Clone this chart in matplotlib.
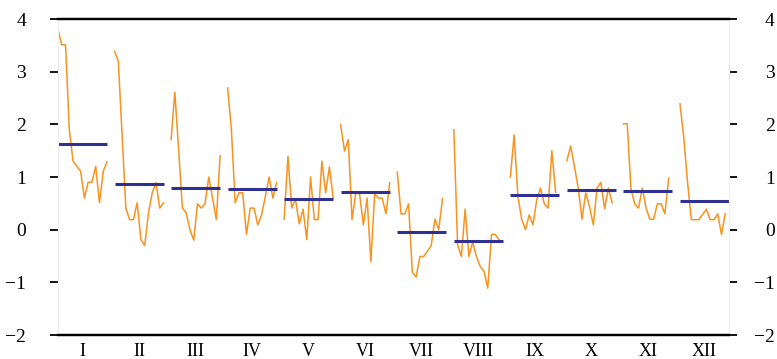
import matplotlib
matplotlib.use("Agg")
import matplotlib.pyplot as plt
import numpy as np

months = ["I", "II", "III", "IV", "V", "VI", "VII", "VIII", "IX", "X", "XI", "XII"]

# one list per month, one value per year
jan = [3.80, 3.51, 3.51, 1.90, 1.30, 1.20, 1.11, 0.60, 0.90, 0.90, 1.20, 0.51, 1.11, 1.29]
feb = [3.39, 3.20, 1.80, 0.41, 0.19, 0.19, 0.51, -0.19, -0.30, 0.32, 0.70, 0.89, 0.41, 0.51]
mar = [1.71, 2.61, 1.52, 0.41, 0.32, 0.00, -0.20, 0.49, 0.41, 0.49, 1.00, 0.60, 0.19, 1.40]
apr = [2.69, 1.90, 0.51, 0.70, 0.70, -0.09, 0.41, 0.41, 0.09, 0.28, 0.63, 1.00, 0.60, 0.89]
may = [0.20, 1.39, 0.41, 0.58, 0.11, 0.39, -0.19, 1.00, 0.19, 0.19, 1.30, 0.70, 1.19, 0.60]
jun = [1.99, 1.49, 1.71, 0.19, 0.70, 0.68, 0.09, 0.60, -0.61, 0.68, 0.60, 0.60, 0.30, 0.89]
jul = [1.09, 0.30, 0.30, 0.49, -0.81, -0.90, -0.51, -0.51, -0.41, -0.30, 0.20, 0.00, 0.59]
aug = [1.90, -0.28, -0.51, 0.39, -0.51, -0.24, -0.51, -0.70, -0.79, -1.11, -0.09, -0.09, -0.19]
sep = [1.00, 1.80, 0.63, 0.20, 0.00, 0.28, 0.09, 0.57, 0.79, 0.49, 0.41, 1.50, 0.71]
oct_ = [1.31, 1.59, 1.20, 0.79, 0.20, 0.70, 0.44, 0.09, 0.79, 0.90, 0.40, 0.79, 0.51]
nov = [2.01, 2.01, 0.77, 0.49, 0.41, 0.79, 0.41, 0.20, 0.20, 0.49, 0.49, 0.30, 0.98]
dec = [2.39, 1.75, 0.90, 0.19, 0.19, 0.19, 0.29, 0.39, 0.19, 0.19, 0.30, -0.09, 0.30]

series = [jan, feb, mar, apr, may, jun, jul, aug, sep, oct_, nov, dec]
n_years = 14
step = 15

orange = "#F7931E"
navy = "#2E3192"

plt.rcParams['font.family'] = ['Liberation Serif', 'DejaVu Serif']

fig = plt.figure(figsize=(7.77, 3.59), dpi=100)
ax = fig.add_axes([58 / 777, 1 - 335 / 359, (729 - 58) / 777, (335 - 19) / 359])

for m, vals in enumerate(series):
    x0 = m * step
    xs = x0 + np.arange(len(vals))
    ax.plot(xs, vals, color=orange, lw=1.1, zorder=2)
    ax.hlines(np.mean(vals), x0, x0 + n_years - 1, color=navy, lw=2.2, zorder=3)

ax.set_xlim(0, 11 * step + n_years - 1)
ax.set_ylim(-2, 4)
ax.set_yticks(range(-2, 5))
ax.set_xticks([m * step + (n_years - 1) / 2 for m in range(12)])
ax.set_xticklabels(months)
ax.tick_params(axis='x', length=0, pad=6, labelsize=13)
ax.tick_params(axis='y', length=6, width=1.3, labelsize=14, pad=17)

# right hand axis, labels right aligned at the figure edge
ax2 = ax.twinx()
ax2.set_ylim(ax.get_ylim())
ax2.set_yticks(range(-2, 5))
ax2.tick_params(axis='y', length=6, width=1.3, labelsize=14, pad=27)
for lab in ax2.get_yticklabels():
    lab.set_horizontalalignment('right')

for a in (ax, ax2):
    for s in ['top', 'bottom']:
        a.spines[s].set_linewidth(1.6)
        a.spines[s].set_color('black')
    for s in ['left', 'right']:
        a.spines[s].set_color('#eeeeee')
        a.spines[s].set_linewidth(0.8)

fig.savefig("out.png", dpi=100)
